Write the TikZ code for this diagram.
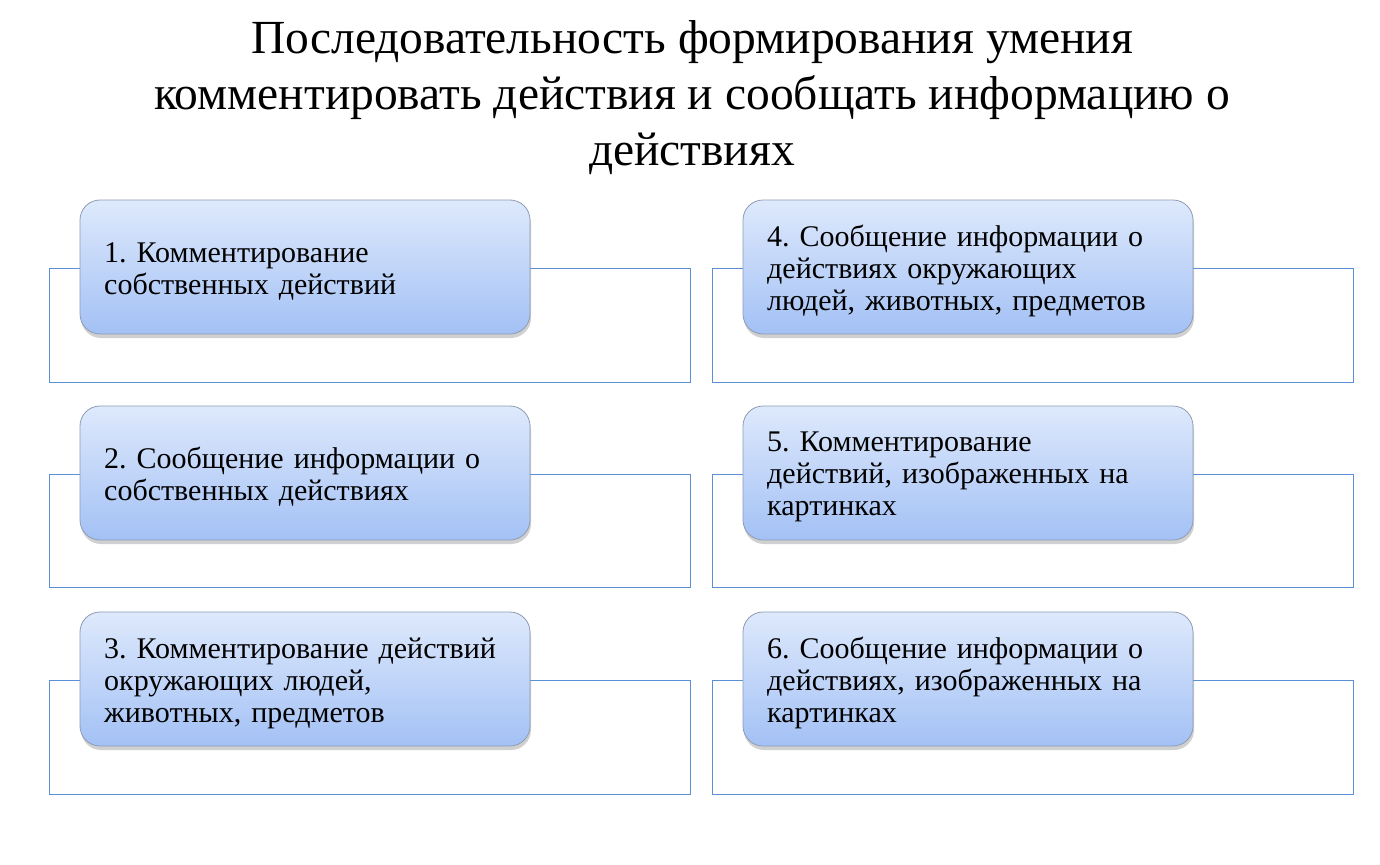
\documentclass[tikz,border=0pt]{standalone}
\usepackage{fontspec}
\setmainfont{Liberation Serif}
\usetikzlibrary{shadows}
\definecolor{frameblue}{HTML}{5B8FD6}
\definecolor{boxtop}{HTML}{DEE9FC}
\definecolor{boxbot}{HTML}{A3C1F5}
\definecolor{boxline}{HTML}{8E9CB4}
\tikzset{
  outerframe/.style={draw=frameblue, line width=0.9pt, fill=white},
  stepbox/.style={draw=boxline, line width=0.8pt, rounded corners=20pt,
    top color=boxtop, bottom color=boxbot,
    drop shadow={shadow xshift=1pt, shadow yshift=-4pt, opacity=0.3, fill=black!60}},
  steptext/.style={anchor=west, align=left, text width=430pt, inner sep=0pt,
    font=\frenchspacing\fontsize{30}{32}\selectfont},
  titletext/.style={align=center, inner sep=0pt, font=\fontsize{47.5}{56}\selectfont}
}
\begin{document}
\begin{tikzpicture}[x=1pt,y=-1pt]
\useasboundingbox (0,0) rectangle (1380,864);
\fill[white] (0,0) rectangle (1380,864);
\node[titletext] (title) at (692,98) {Последовательность формирования умения\\комментировать действия и сообщать информацию о\\действиях};
\draw[outerframe] (49,268) rectangle (690,382) coordinate (f1);
\draw[outerframe] (49,474) rectangle (690,587) coordinate (f2);
\draw[outerframe] (49,680) rectangle (690,794) coordinate (f3);
\draw[outerframe] (712,268) rectangle (1353,382) coordinate (f4);
\draw[outerframe] (712,474) rectangle (1353,587) coordinate (f5);
\draw[outerframe] (712,680) rectangle (1353,794) coordinate (f6);
\draw[stepbox] (80,200) rectangle (530,334);
\draw[stepbox] (80,406) rectangle (530,540);
\draw[stepbox] (80,612) rectangle (530,746);
\draw[stepbox] (743,200) rectangle (1193,334);
\draw[stepbox] (743,406) rectangle (1193,540);
\draw[stepbox] (743,612) rectangle (1193,746);
\node[steptext] (t1) at (104,271) {1. Комментирование\\собственных действий};
\node[steptext] (t2) at (104,477) {2. Сообщение информации о\\собственных действиях};
\node[steptext] (t3) at (104,683) {3. Комментирование действий\\окружающих людей,\\животных, предметов};
\node[steptext] (t4) at (767,271) {4. Сообщение информации о\\действиях окружающих\\людей, животных, предметов};
\node[steptext] (t5) at (767,477) {5. Комментирование\\действий, изображенных на\\картинках};
\node[steptext] (t6) at (767,683) {6. Сообщение информации о\\действиях, изображенных на\\картинках};
\end{tikzpicture}
\end{document}
